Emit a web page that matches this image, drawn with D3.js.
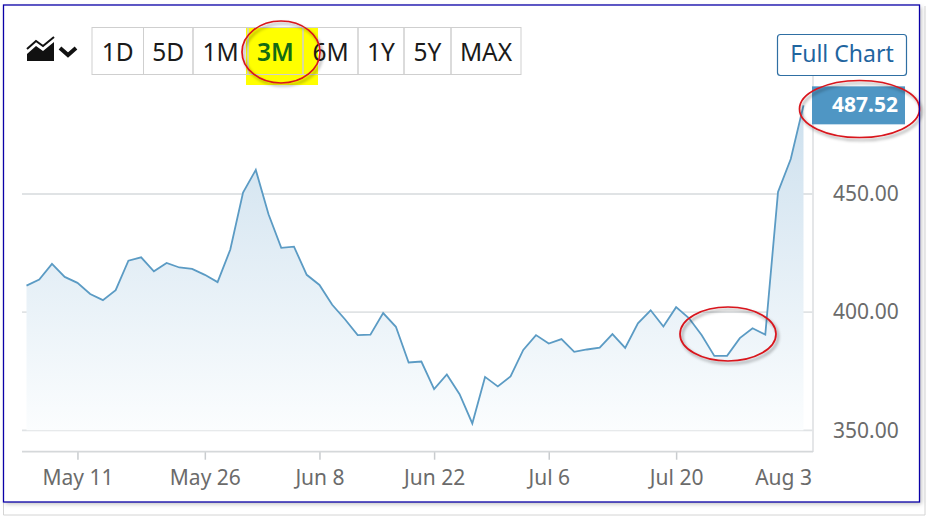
<!DOCTYPE html>
<html>
<head>
<meta charset="utf-8">
<script src="https://cdn.jsdelivr.net/npm/d3@7"></script>
<style>
  html, body { margin: 0; padding: 0; background: #fff; }
  svg { display: block; font-family: "Noto Sans", "Open Sans", sans-serif; }
</style>
</head>
<body>
<div id="chart"></div>
<script>
// trading days, in the order the chart plots them
const dates = [
  "May 5","May 6","May 7","May 8","May 11","May 12","May 13","May 14","May 15",
  "May 18","May 19","May 20","May 21","May 22","May 26","May 27","May 28","May 29",
  "Jun 1","Jun 2","Jun 3","Jun 4","Jun 5","Jun 8","Jun 9","Jun 10","Jun 11",
  "Jun 15","Jun 16","Jun 17","Jun 18","Jun 19","Jun 22","Jun 23","Jun 24","Jun 25","Jun 26",
  "Jun 29","Jun 30","Jul 1","Jul 2","Jul 6","Jul 7","Jul 8","Jul 9","Jul 10",
  "Jul 13","Jul 14","Jul 15","Jul 16","Jul 17","Jul 20","Jul 21","Jul 22","Jul 23","Jul 24",
  "Jul 27","Jul 28","Jul 29","Jul 30","Jul 31","Aug 3"
];
const prices = [
  411.2,413.8,420.4,414.9,412.4,407.7,405.1,409.3,421.8,
  423.2,417.3,420.8,418.9,418.3,415.8,412.7,426.5,450.6,
  460.2,441.4,427.2,427.7,415.8,411.5,403.1,397.0,390.3,
  390.5,399.6,393.8,378.7,379.1,367.4,373.6,365.3,352.9,372.6,
  368.6,372.8,384.0,390.3,386.7,388.6,383.2,384.2,385.0,
  390.7,384.9,395.3,400.8,393.9,402.1,397.5,390.3,381.5,381.5,
  389.0,393.2,390.5,450.9,464.8,487.52
];
const xTicks = ["May 11","May 26","Jun 8","Jun 22","Jul 6","Jul 20"];
const lastLabel = "Aug 3";
const yTicks = [350, 400, 450];
const ranges = ["1D","5D","1M","3M","6M","1Y","5Y","MAX"];
const rangeEdges = [92,143.5,193,248,303,358,404,451,521];

const width = 930, height = 519;
const svg = d3.select('#chart').append('svg')
  .attr('width', width)
  .attr('height', height);

const defs = svg.append('defs');
const lg = defs.append('linearGradient')
  .attr('id', 'areaFill')
  .attr('x1', 0).attr('x2', 0).attr('y1', 0).attr('y2', 1);
lg.append('stop').attr('offset', '0%').style('stop-color', '#cde0ee');
lg.append('stop').attr('offset', '100%').style('stop-color', '#fbfdfe');

const blur = defs.append('filter').attr('id', 'shadow')
  .attr('x', '-10%').attr('y', '-10%').attr('width', '125%').attr('height', '130%');
blur.append('feDropShadow')
  .attr('dx', 2).attr('dy', 2.5).attr('stdDeviation', 1.8)
  .attr('flood-color', '#000').attr('flood-opacity', 0.4);

const frameShadow = defs.append('filter').attr('id', 'frameShadow')
  .attr('x', '-2%').attr('y', '-2%').attr('width', '104%').attr('height', '104%');
frameShadow.append('feDropShadow')
  .attr('dx', 2).attr('dy', 2).attr('stdDeviation', 2)
  .attr('flood-color', '#000').attr('flood-opacity', 0.25);

// outer screenshot edge (right and bottom only) and white card behind everything
svg.append('path').attr('d', 'M925 6 V515 H3.5 V503')
  .attr('fill', 'none').attr('stroke', '#d4d4d4').attr('stroke-width', 1);
svg.append('rect').attr('x', 3.5).attr('y', 5).attr('width', 916).attr('height', 497)
  .attr('fill', '#fff').attr('filter', 'url(#frameShadow)');

// scales
const x = d3.scalePoint().domain(dates).range([26.5, 803.5]);
const y = d3.scaleLinear().domain([350, 450]).range([430.3, 194]);

// grid
svg.append('g').selectAll('line')
  .data(yTicks)
  .join('line')
  .attr('x1', 22).attr('x2', 813)
  .attr('y1', d => y(d)).attr('y2', d => y(d))
  .attr('stroke', '#e0e3e5').attr('stroke-width', 1.8);

// frame of the plot
svg.append('line').attr('x1', 813).attr('x2', 813).attr('y1', 76).attr('y2', 452)
  .attr('stroke', '#e2e4e6').attr('stroke-width', 1.8);

// area + line
const rows = dates.map((d, i) => ({ date: d, price: prices[i] }));
svg.append('path').datum(rows)
  .attr('fill', 'url(#areaFill)')
  .attr('d', d3.area().x(d => x(d.date)).y0(y(350)).y1(d => y(d.price)));
svg.append('path').datum(rows)
  .attr('fill', 'none')
  .attr('stroke', '#5b9bc4').attr('stroke-width', 1.8)
  .attr('d', d3.line().x(d => x(d.date)).y(d => y(d.price)));

// x axis
const xAxis = svg.append('g')
  .attr('transform', 'translate(0,451.7)')
  .call(d3.axisBottom(x).tickValues(xTicks).tickSize(8).tickPadding(10));
xAxis.select('.domain').remove();
xAxis.append('line').attr('x1', 22).attr('x2', 813)
  .attr('stroke', '#d5d8da').attr('stroke-width', 1.8);
xAxis.selectAll('.tick line').attr('stroke', '#c9cccf').attr('stroke-width', 1.5);
xAxis.selectAll('.tick text')
  .attr('fill', '#6b6b6b').style('font-size', '21px').style('font-family', '"Noto Sans"');
xAxis.append('text')
  .attr('x', 812).attr('y', 18)
  .attr('dy', '0.71em')
  .attr('text-anchor', 'end')
  .attr('fill', '#6b6b6b').style('font-size', '21px').style('font-family', '"Noto Sans"')
  .text(lastLabel);

// y axis
const yAxis = svg.append('g')
  .attr('transform', 'translate(813,0)')
  .call(d3.axisRight(y).tickValues(yTicks).tickSize(0).tickPadding(20).tickFormat(d3.format('.2f')));
yAxis.select('.domain').remove();
yAxis.selectAll('.tick text')
  .attr('fill', '#6b6b6b').style('font-size', '21px').style('font-family', '"Noto Sans"');

// last price tag
const lastY = y(prices[prices.length - 1]);
svg.append('rect').attr('x', 812).attr('y', lastY - 19).attr('width', 93).attr('height', 38)
  .attr('fill', '#4f96c4');
svg.append('text').attr('x', 898).attr('y', lastY - 1).attr('dy', '0.35em')
  .attr('text-anchor', 'end').attr('fill', '#fff')
  .style('font-size', '21px').style('font-weight', 700)
  .text(d3.format('.2f')(prices[prices.length - 1]));

// range buttons
svg.append('rect').attr('x', 246).attr('y', 27).attr('width', 72).attr('height', 58).attr('fill', '#ffff00');
const btn = svg.append('g').selectAll('g')
  .data(ranges)
  .join('g');
btn.append('rect')
  .attr('x', (d, i) => rangeEdges[i]).attr('y', 27.5)
  .attr('width', (d, i) => rangeEdges[i + 1] - rangeEdges[i]).attr('height', 47)
  .attr('fill', 'none').attr('stroke', '#cfcfcf');
btn.append('text')
  .attr('x', (d, i) => (rangeEdges[i] + rangeEdges[i + 1]) / 2).attr('y', 52).attr('dy', '0.36em')
  .attr('text-anchor', 'middle')
  .attr('fill', d => d === '3M' ? '#136b13' : '#1a1a1a')
  .style('font-size', '24.5px')
  .style('font-weight', d => d === '3M' ? 600 : 400)
  .text(d => d);

// chart type icon
const icon = svg.append('g').attr('transform', 'translate(27,36)');
icon.append('path').attr('d', 'M0 18 L9 10 L16 15 L27 6 L27 25 L0 25 Z').attr('fill', '#111');
icon.append('path').attr('d', 'M0 13 L9 5 L16 10 L27 1').attr('fill', 'none').attr('stroke', '#111').attr('stroke-width', 2);
icon.append('path').attr('d', 'M33 12 L41 19 L49 12').attr('fill', 'none').attr('stroke', '#111').attr('stroke-width', 4);

// full chart button
svg.append('rect').attr('x', 777.5).attr('y', 34.5).attr('width', 129).attr('height', 41).attr('rx', 3)
  .attr('fill', '#fff').attr('stroke', '#2f6fa3').attr('stroke-width', 1.2);
svg.append('text').attr('x', 842).attr('y', 54).attr('dy', '0.36em')
  .attr('text-anchor', 'middle').attr('fill', '#1f659f')
  .style('font-size', '23px').text('Full Chart');

// red hand drawn ellipses
const ellipses = [
  { cx: 281, cy: 52, rx: 39, ry: 31 },
  { cx: 859.5, cy: 109, rx: 60, ry: 28.5 },
  { cx: 728, cy: 334, rx: 48, ry: 27 }
];
svg.append('g').selectAll('ellipse')
  .data(ellipses)
  .join('ellipse')
  .attr('cx', d => d.cx).attr('cy', d => d.cy).attr('rx', d => d.rx).attr('ry', d => d.ry)
  .attr('fill', 'none').attr('stroke', '#d8141c').attr('stroke-width', 1.7)
  .attr('filter', 'url(#shadow)');

// screenshot border
svg.append('rect').attr('x', 3.5).attr('y', 5).attr('width', 916).attr('height', 497)
  .attr('fill', 'none').attr('stroke', '#0a00a8').attr('stroke-width', 1.3);
</script>
</body>
</html>
